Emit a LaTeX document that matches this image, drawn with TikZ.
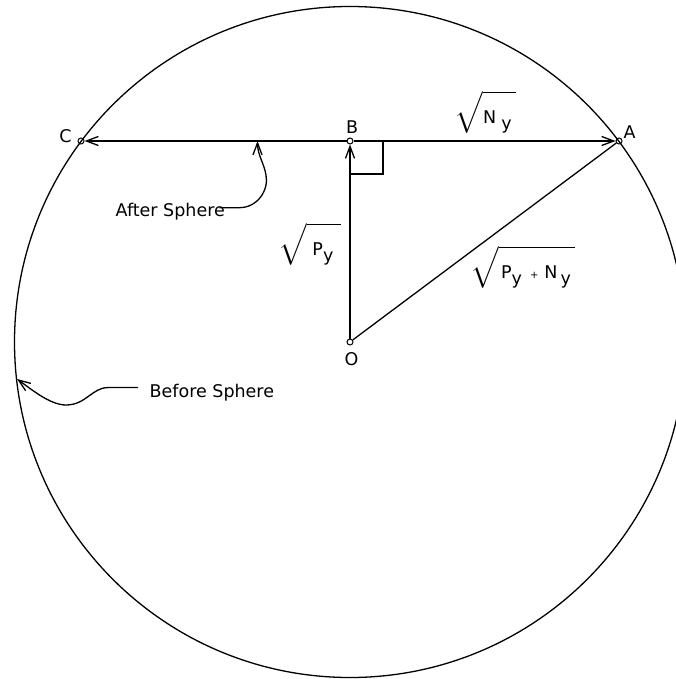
\documentclass[tikz,border=0pt]{standalone}
\usepackage{fix-cm}
\usepackage{exscale}
\usepackage{amsmath}
\usepackage{graphicx}
\usepackage{fontspec}
\setmainfont{DejaVu Sans}
\usetikzlibrary{arrows.meta,positioning,calc}
\newcommand{\dy}{\raisebox{-6pt}{y}}
\newcommand{\smplus}{{\fontsize{10}{10}\selectfont +}}
\newcommand{\radstrut}{\rule[-7pt]{0pt}{36pt}}
% wide root sign, text kept at its own width
\newcommand{\wroot}[1]{\scalebox{1.65}[1]{$\sqrt{\radstrut\scalebox{0.60606}[1]{#1}}$}}

\begin{document}
\begin{tikzpicture}[
  x=1pt, y=-1pt,
  font=\fontsize{17.5}{20}\selectfont,
  line width=1.3pt,
  >={Straight Barb[length=12pt,width=9pt]},
  pnt/.style={circle, draw, inner sep=0pt, minimum size=6pt, line width=1pt},
  lbl/.style={inner sep=0pt, anchor=base},
  txt/.style={inner sep=0pt, anchor=base west},
]
\clip (0,0) rectangle (676,679);

% ===== points =====
\node[pnt] (O) at (350,342) {};
\node[pnt] (B) at (350,141) {};
\node[pnt] (A) at (619,141) {};
\node[pnt] (C) at (81,141) {};

% sphere
\draw (O.center) circle[radius=335.5pt];

% ===== point names =====
\node[lbl] (lC) at (65.5,142.7) {C};
\node[lbl] (lB) at (352,133.3) {B};
\node[lbl] (lA) at (629.5,138.3) {A};
\node[lbl] (lO) at (351.5,365) {O};

% ===== segments =====
\draw[->] (B) -- (A);
\draw[->] (B) -- (C);
\draw[->] (O) -- (B);
\draw (O) -- (A);
\draw ([yshift=-33pt]B.center) -| ([xshift=33pt]B.center);

% ===== lengths =====
\node[txt] (rN) at (454,123.3)
  {\wroot{\hspace{0pt}N\hspace{5pt}\dy\hspace{4pt}}};
\node[txt] (rP) at (278.3,255)
  {\wroot{\hspace{5pt}P\dy\hspace{8pt}}};
\node[txt] (rPN) at (470,278.3)
  {\wroot{\hspace{2pt}P\dy\hspace{8pt}\smplus\hspace{6pt}N\hspace{3pt}\dy\hspace{4pt}}};

% ===== before / after =====
\node[txt] (aft) at (115,216.5) {After Sphere};
\node[txt] (bef) at (149,397) {Before Sphere};
\coordinate (tA) at (257.5,141);
\coordinate (tB) at (17,379);
\draw[->] ([xshift=-6pt,yshift=4pt]aft.east) -- ++(20,0)
  .. controls +(18,0) and +(3,15) .. (266,175)
  .. controls +(-2,-12) and +(0,14) .. (tA);
\draw[->] ([xshift=-11pt,yshift=4.6pt]bef.west) -- ++(-30,0)
  .. controls +(-16,0) and +(20,0) .. (66,405)
  .. controls +(-16,0) and +(14,10) .. (tB);

\end{tikzpicture}
\end{document}
